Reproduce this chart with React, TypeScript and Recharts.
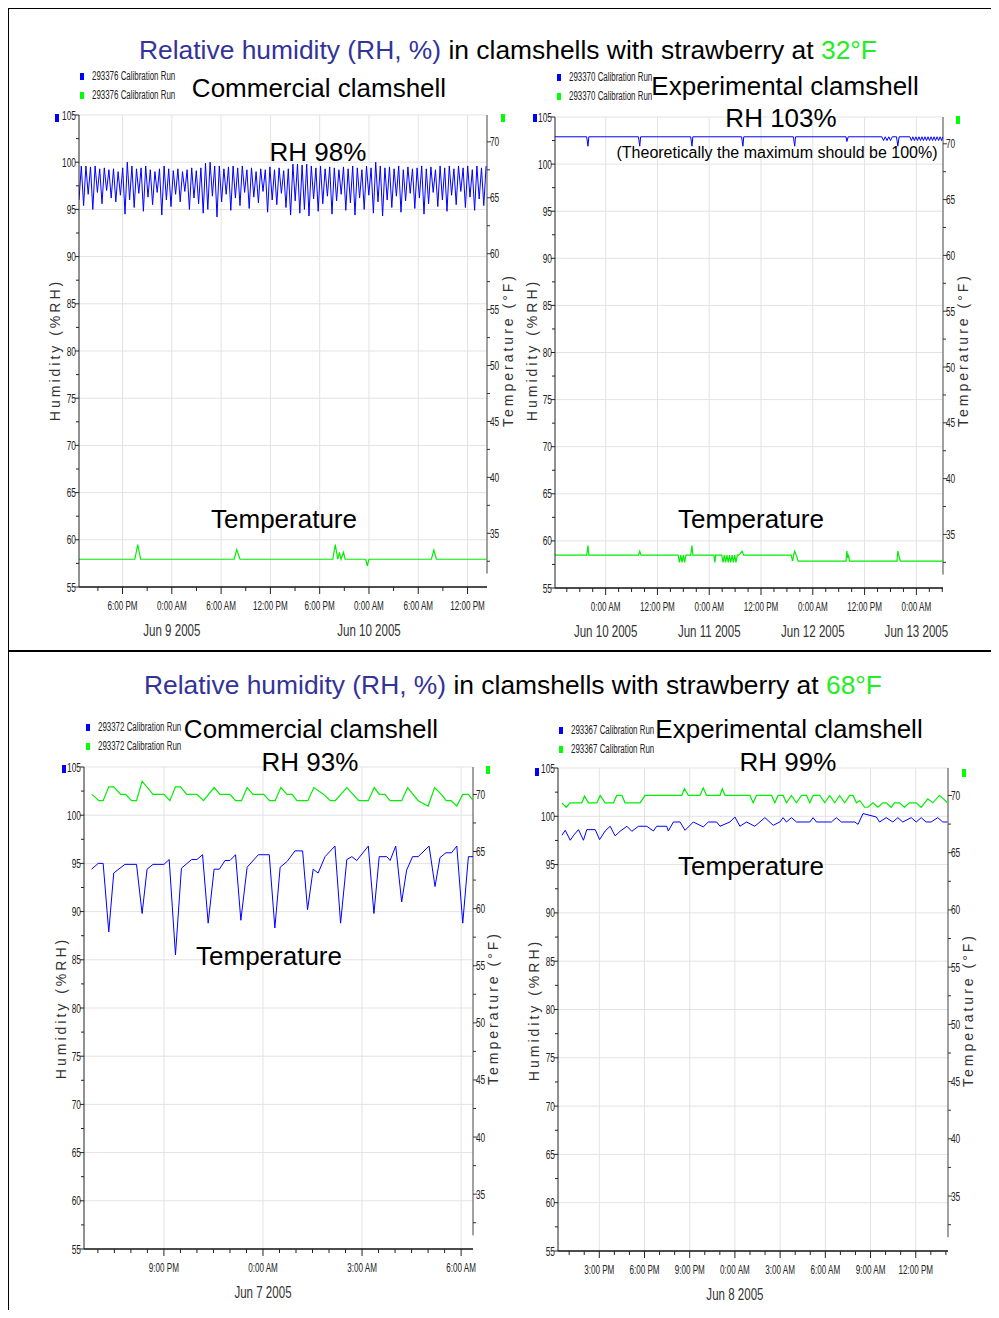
import React from "react";
import { ComposedChart, Line, XAxis, YAxis, ReferenceLine } from "recharts";

const FONT = '"Liberation Sans", Arial, sans-serif';
const BLUE = "#0000ff";
const GREEN = "#00ee00";
const TITLE_BLUE = "#333399";
const GRID = "#e3e3e3";

// ---------- Top-left: Commercial clamshell, 32°F (RH sampled every 0.28 h from -11.3 h) ----------
const tlRhStart = -11.3;
const tlRhStep = 0.28;
const tlRh = [
  96.0, 99.6, 95.4, 99.6, 96.6, 99.5, 95.0, 99.6, 96.8, 99.3,
  95.6, 99.4, 97.0, 99.2, 96.2, 99.3, 95.8, 99.0, 96.5, 99.4,
  94.5, 100.0, 96.0, 99.6, 95.2, 99.3, 96.7, 99.4, 94.8, 99.6,
  96.3, 99.2, 95.5, 99.0, 96.8, 99.3, 94.4, 99.6, 96.0, 99.3,
  95.3, 99.1, 96.6, 99.3, 95.8, 99.0, 96.9, 99.2, 95.0, 99.4,
  96.2, 99.1, 95.6, 99.4, 94.6, 99.9, 95.0, 100.0, 96.4, 99.6,
  94.2, 99.6, 95.8, 99.3, 96.6, 99.5, 94.9, 99.6, 96.2, 99.4,
  95.4, 99.6, 96.8, 99.2, 95.1, 99.4, 96.3, 99.0, 95.7, 99.3,
  96.9, 99.2, 94.7, 99.5, 96.0, 99.2, 95.5, 99.4, 96.7, 99.1,
  95.2, 99.3, 94.4, 99.8, 95.9, 99.8, 94.6, 99.7, 95.0, 99.8,
  94.3, 99.6, 96.1, 99.4, 94.8, 99.6, 95.6, 99.3, 96.4, 99.5,
  94.5, 99.4, 95.9, 99.2, 96.6, 99.5, 94.9, 99.3, 95.7, 99.6,
  94.4, 99.4, 96.2, 99.2, 95.0, 99.6, 96.5, 99.4, 94.6, 100.0,
  95.8, 99.6, 94.3, 99.4, 96.0, 99.5, 95.2, 99.3, 96.4, 99.6,
  94.7, 99.2, 95.9, 99.5, 96.7, 99.3, 95.1, 99.4, 96.2, 99.6,
  94.5, 99.3, 95.6, 99.5, 96.8, 99.2, 95.3, 99.6, 96.0, 99.4,
  94.8, 99.6, 96.5, 99.3, 95.5, 99.6, 96.9, 99.4, 95.2, 99.6,
  96.3, 99.2, 94.9, 99.6, 96.1, 99.4, 95.4, 99.6,
];
const tlTemp: [number, number][] = [
  [-11.3, 32.68], [-4.5, 32.68], [-4.15, 34.0], [-3.8, 32.68], [7.6, 32.68], [7.9, 33.55],
  [8.3, 32.68], [19.6, 32.68], [19.9, 34.0], [20.2, 32.68], [20.4, 33.3], [20.6, 32.68],
  [20.9, 33.3], [21.1, 32.68], [23.6, 32.68], [23.8, 32.1], [24.0, 32.68], [31.6, 32.68],
  [31.9, 33.5], [32.2, 32.68], [38.37, 32.68],
];

// ---------- Top-right: Experimental clamshell, 32°F ----------
const trRh: [number, number][] = [
  [-11.74, 102.9], [-4.4, 102.9], [-4.1, 101.9], [-3.9, 102.9], [7.6, 102.9], [7.9, 101.9],
  [8.1, 102.9], [19.7, 102.9], [20.0, 101.9], [20.2, 102.9], [31.5, 102.9], [31.8, 101.9],
  [32.0, 102.9], [43.5, 102.9], [43.8, 101.9], [44.0, 102.9], [55.7, 102.9], [55.9, 102.4],
  [56.2, 102.9], [64.0, 102.9], [64.4, 102.5], [64.8, 102.9], [65.2, 102.5], [65.6, 102.9],
  [66.0, 102.5], [66.4, 102.9], [67.4, 102.9], [67.7, 101.9], [68.0, 102.9], [70.5, 102.9],
  [70.85, 102.5], [71.2, 102.9], [71.55, 102.5], [71.9, 102.9], [72.25, 102.5], [72.6, 102.9],
  [72.95, 102.5], [73.3, 102.9], [73.65, 102.5], [74.0, 102.9], [74.35, 102.5], [74.7, 102.9],
  [75.05, 102.5], [75.4, 102.9], [75.75, 102.5], [76.1, 102.9], [76.45, 102.5], [76.8, 102.9],
  [77.15, 102.5], [77.5, 102.9], [77.85, 102.5], [78.1, 102.9],
];
const trTemp: [number, number][] = [
  [-11.74, 33.14], [-4.4, 33.14], [-4.1, 34.0], [-3.9, 33.14], [7.6, 33.14], [7.9, 33.5],
  [8.2, 33.14], [16.8, 33.14], [17.1, 32.5], [17.4, 33.14], [17.7, 32.5], [18.0, 33.14],
  [18.3, 32.5], [18.6, 33.14], [19.7, 33.14], [20.0, 34.0], [20.2, 33.14], [25.1, 33.14],
  [25.3, 32.5], [25.5, 33.14], [26.9, 33.14], [27.2, 32.5], [27.5, 33.14], [27.8, 32.5],
  [28.1, 33.14], [28.4, 32.5], [28.7, 33.14], [29.0, 32.5], [29.3, 33.14], [29.6, 32.5],
  [29.9, 33.14], [30.2, 32.5], [30.5, 33.14], [30.8, 33.14], [31.2, 33.3], [31.6, 33.5],
  [32.0, 33.14], [43.0, 33.14], [43.3, 32.6], [43.6, 33.2], [43.8, 33.5], [44.2, 33.1],
  [44.6, 32.6], [55.7, 32.6], [55.9, 33.5], [56.1, 32.9], [56.3, 33.1], [56.5, 32.6],
  [67.5, 32.6], [67.7, 33.5], [68.0, 33.0], [68.3, 32.6], [78.17, 32.6],
];

// ---------- Bottom-left: Commercial clamshell, 68°F ----------
const blRh: [number, number][] = [
  [-5.19, 94.4], [-4.99, 95.0], [-4.84, 95.0], [-4.67, 87.9], [-4.52, 94.0], [-4.18, 94.9],
  [-3.83, 94.9], [-3.66, 89.8], [-3.51, 94.4], [-3.33, 94.9], [-3.0, 94.9], [-2.84, 95.4],
  [-2.65, 85.5], [-2.47, 94.5], [-2.16, 95.4], [-2.0, 95.4], [-1.83, 95.9], [-1.66, 88.8],
  [-1.48, 94.4], [-1.32, 94.4], [-1.15, 95.3], [-1.0, 95.3], [-0.83, 95.9], [-0.67, 89.1],
  [-0.48, 94.6], [-0.14, 95.9], [0.19, 95.9], [0.36, 88.3], [0.52, 94.6], [0.73, 95.2],
  [0.97, 96.3], [1.2, 96.3], [1.35, 90.2], [1.52, 94.4], [1.67, 94.0], [1.88, 95.7],
  [2.18, 96.8], [2.35, 88.8], [2.54, 95.4], [2.69, 95.7], [2.84, 95.3], [3.19, 96.8],
  [3.36, 89.8], [3.52, 95.7], [3.75, 95.7], [3.85, 95.3], [4.02, 96.8], [4.2, 91.0],
  [4.35, 94.3], [4.53, 95.7], [4.7, 95.7], [5.03, 96.8], [5.21, 92.6], [5.36, 95.6],
  [5.54, 96.1], [5.71, 96.1], [5.87, 96.8], [6.05, 88.8], [6.22, 95.7], [6.36, 95.7],
];
const blTemp: [number, number][] = [
  [-5.18, 70.0], [-4.97, 69.45], [-4.84, 69.45], [-4.67, 70.66], [-4.52, 70.66], [-4.31, 70.0],
  [-4.16, 70.0], [-3.98, 69.45], [-3.83, 69.45], [-3.66, 71.16], [-3.33, 70.0], [-3.0, 70.0],
  [-2.82, 69.45], [-2.65, 70.66], [-2.5, 70.66], [-2.31, 70.0], [-2.0, 70.0], [-1.8, 69.45],
  [-1.48, 70.6], [-1.3, 70.0], [-1.0, 70.0], [-0.83, 69.45], [-0.65, 69.45], [-0.48, 70.6],
  [-0.3, 70.0], [0.02, 70.0], [0.2, 69.45], [0.37, 69.45], [0.54, 70.6], [0.73, 70.0],
  [0.88, 70.0], [1.03, 69.45], [1.36, 69.45], [1.54, 70.6], [1.84, 70.0], [2.04, 69.45],
  [2.19, 69.45], [2.54, 70.6], [2.9, 69.45], [3.19, 69.45], [3.37, 70.6], [3.52, 70.0],
  [3.69, 70.0], [3.85, 69.45], [4.2, 69.45], [4.38, 70.6], [4.7, 69.45], [5.0, 68.98],
  [5.2, 70.6], [5.4, 70.0], [5.55, 69.45], [5.7, 69.45], [5.87, 68.98], [6.05, 70.0],
  [6.22, 70.0], [6.36, 69.5],
];

// ---------- Bottom-right: Experimental clamshell, 68°F ----------
const brRh: [number, number][] = [
  [-11.48, 98.04], [-11.26, 98.55], [-10.93, 97.52], [-10.7, 98.04], [-10.38, 98.62], [-10.05, 97.52],
  [-9.83, 98.62], [-9.27, 98.62], [-8.98, 97.59], [-8.61, 98.48], [-8.28, 98.97], [-7.95, 97.97],
  [-7.62, 98.45], [-7.17, 98.97], [-6.84, 98.45], [-6.4, 98.97], [-5.85, 98.97], [-5.41, 98.48],
  [-5.19, 98.97], [-4.53, 98.97], [-4.42, 98.48], [-4.08, 99.41], [-3.64, 99.41], [-3.31, 98.55],
  [-2.76, 99.41], [-2.1, 98.9], [-1.77, 99.41], [-1.21, 99.41], [-0.99, 98.97], [-0.33, 99.41],
  [0.0, 99.93], [0.33, 98.97], [0.77, 99.41], [1.32, 98.97], [1.99, 99.86], [2.54, 99.07],
  [2.98, 99.41], [3.2, 99.86], [3.42, 99.41], [3.75, 99.86], [4.08, 99.41], [4.97, 99.41],
  [5.19, 99.86], [5.41, 99.41], [6.4, 99.41], [6.73, 99.86], [7.06, 99.41], [7.95, 99.41],
  [8.17, 99.17], [8.5, 100.28], [9.38, 99.93], [9.6, 99.41], [10.04, 99.86], [10.48, 99.41],
  [10.81, 99.86], [11.14, 99.41], [11.7, 99.86], [12.03, 99.41], [12.36, 99.86], [12.69, 99.41],
  [13.02, 99.41], [13.46, 99.86], [13.79, 99.41], [14.1, 99.41],
];
const brTemp: [number, number][] = [
  [-11.48, 69.36], [-11.2, 68.97], [-10.93, 69.36], [-10.16, 69.36], [-9.98, 69.94], [-9.72, 69.36],
  [-9.16, 69.36], [-8.94, 70.0], [-8.61, 69.36], [-8.06, 69.36], [-7.84, 70.0], [-7.5, 70.0],
  [-7.29, 69.36], [-6.29, 69.36], [-5.96, 70.0], [-3.53, 70.0], [-3.35, 70.59], [-3.09, 70.0],
  [-2.32, 70.0], [-2.1, 70.65], [-1.88, 70.0], [-0.99, 70.0], [-0.84, 70.59], [-0.66, 70.0],
  [0.99, 70.0], [1.21, 69.36], [1.43, 70.0], [2.43, 70.0], [2.65, 69.36], [2.87, 70.0],
  [3.2, 70.0], [3.42, 69.36], [3.75, 70.0], [4.08, 69.36], [4.42, 70.0], [4.75, 70.0],
  [4.97, 69.36], [5.19, 70.0], [5.63, 70.0], [5.96, 69.36], [6.29, 70.0], [6.62, 69.36],
  [6.95, 70.0], [7.28, 69.36], [7.62, 70.0], [7.84, 70.0], [8.06, 69.36], [8.28, 69.56],
  [8.61, 68.97], [8.83, 68.97], [9.16, 69.36], [9.49, 68.97], [9.82, 69.36], [10.04, 69.36],
  [10.37, 68.97], [10.59, 69.36], [10.92, 69.36], [11.25, 68.97], [11.59, 69.36], [12.03, 69.36],
  [12.36, 68.97], [12.8, 69.71], [13.13, 69.36], [13.57, 70.0], [13.79, 69.77], [14.1, 69.36],
];

// ---------- Axis tick labels ----------
const tlMajors = [-6, 0, 6, 12, 18, 24, 30, 36];
const tlMajorLabels = ["6:00 PM", "0:00 AM", "6:00 AM", "12:00 PM", "6:00 PM", "0:00 AM", "6:00 AM", "12:00 PM"];
const tlDates = ["", "Jun 9 2005", "", "", "", "Jun 10 2005", "", ""];

const trMajors = [0, 12, 24, 36, 48, 60, 72];
const trMajorLabels = ["0:00 AM", "12:00 PM", "0:00 AM", "12:00 PM", "0:00 AM", "12:00 PM", "0:00 AM"];
const trDates = ["Jun 10 2005", "", "Jun 11 2005", "", "Jun 12 2005", "", "Jun 13 2005"];

const blMajors = [-3, 0, 3, 6];
const blMajorLabels = ["9:00 PM", "0:00 AM", "3:00 AM", "6:00 AM"];
const blDates = ["", "Jun 7 2005", "", ""];

const brMajors = [-9, -6, -3, 0, 3, 6, 9, 12];
const brMajorLabels = ["3:00 PM", "6:00 PM", "9:00 PM", "0:00 AM", "3:00 AM", "6:00 AM", "9:00 AM", "12:00 PM"];
const brDates = ["", "", "", "Jun 8 2005", "", "", "", ""];

const range = (a: number, b: number, s: number) => {
  const r: number[] = [];
  for (let v = a; v <= b + 1e-9; v += s) r.push(Math.round(v * 1000) / 1000);
  return r;
};

const leftTicks = range(55, 105, 2.5);
const rightTicks = range(32.5, 70, 2.5);
const gridY = range(60, 105, 5);
const isMult5 = (v: number) => Math.abs(v / 5 - Math.round(v / 5)) < 1e-6;

type Rect = { x: number; y: number; w: number; h: number };

interface PanelProps {
  plot: Rect;
  xDomain: [number, number];
  minorStep: number;
  majors: number[];
  majorLabels: string[];
  dates: string[];
  rh: [number, number][];
  temp: [number, number][];
}

function buildRows(rh: [number, number][], temp: [number, number][]) {
  const rows: any[] = [];
  rh.forEach(([t, v]) => rows.push({ t, rh: v }));
  temp.forEach(([t, v]) => rows.push({ t, temp: v }));
  rows.sort((a, b) => a.t - b.t);
  return rows;
}

const RIGHT_DOMAIN: [number, number] = [30.2, 72.4];
const X_AXIS_H = 60;

function Panel({ plot, xDomain, minorStep, majors, majorLabels, dates, rh, temp }: PanelProps) {
  const rows = buildRows(rh, temp);
  const start = Math.ceil(xDomain[0] / minorStep) * minorStep;
  const xTicks = range(start, xDomain[1], minorStep);

  const xTick = (props: any) => {
    const { x, y, payload } = props;
    const v = payload.value;
    const idx = majors.findIndex((m) => Math.abs(m - v) < 1e-6);
    if (idx < 0) {
      return <line x1={x} x2={x} y1={y} y2={y + 4} stroke="#222" strokeWidth={1} />;
    }
    return (
      <g>
        <line x1={x} x2={x} y1={y} y2={y + 7} stroke="#222" strokeWidth={1} />
        <text
          transform={`translate(${x},${y + 23}) scale(0.6,1)`}
          textAnchor="middle"
          fontSize={13.5}
          fontFamily={FONT}
          fill="#222"
        >
          {majorLabels[idx]}
        </text>
        {dates[idx] ? (
          <text
            transform={`translate(${x},${y + 49}) scale(0.7,1)`}
            textAnchor="middle"
            fontSize={16.5}
            fontFamily={FONT}
            fill="#333"
          >
            {dates[idx]}
          </text>
        ) : null}
      </g>
    );
  };

  const leftTick = (props: any) => {
    const { x, y, payload } = props;
    const v = payload.value;
    const major = isMult5(v);
    return (
      <g>
        <line x1={x - (major ? 4 : 3)} x2={x} y1={y} y2={y} stroke="#222" />
        {major ? (
          <text
            transform={`translate(${x - 3},${y + 4.5}) scale(0.64,1)`}
            textAnchor="end"
            fontSize={13}
            fontFamily={FONT}
            fill="#222"
          >
            {v}
          </text>
        ) : null}
      </g>
    );
  };

  const rightTick = (props: any) => {
    const { x, y, payload } = props;
    const v = payload.value;
    const major = isMult5(v);
    return (
      <g>
        <line x1={x} x2={x + (major ? 4 : 3)} y1={y} y2={y} stroke="#333" />
        {major ? (
          <text
            transform={`translate(${x + 3},${y + 4.5}) scale(0.64,1)`}
            textAnchor="start"
            fontSize={13}
            fontFamily={FONT}
            fill="#222"
          >
            {v}
          </text>
        ) : null}
      </g>
    );
  };

  return (
    <div style={{ position: "absolute", left: plot.x - 50, top: plot.y - 10 }}>
      <ComposedChart
        width={plot.w + 100}
        height={plot.h + 20 + X_AXIS_H}
        data={rows}
        margin={{ top: 10, right: 20, bottom: 10, left: 20 }}
      >
        <XAxis
          xAxisId="x"
          type="number"
          dataKey="t"
          domain={xDomain}
          allowDataOverflow
          ticks={xTicks}
          interval={0}
          tickSize={0}
          tickMargin={0}
          height={X_AXIS_H}
          tickLine={false}
          axisLine={{ stroke: "#111", strokeWidth: 1.5 }}
          tick={xTick}
        />
        <YAxis
          yAxisId="left"
          type="number"
          domain={[55, 105]}
          allowDataOverflow
          ticks={leftTicks}
          interval={0}
          width={30}
          tickSize={0}
          tickMargin={0}
          tickLine={false}
          axisLine={{ stroke: "#222" }}
          tick={leftTick}
        />
        <YAxis
          yAxisId="right"
          orientation="right"
          type="number"
          domain={RIGHT_DOMAIN}
          allowDataOverflow
          ticks={rightTicks}
          interval={0}
          width={30}
          tickSize={0}
          tickMargin={0}
          tickLine={false}
          axisLine={false}
          tick={rightTick}
        />
        {gridY.map((v) => (
          <ReferenceLine key={"gy" + v} xAxisId="x" yAxisId="left" y={v} stroke={GRID} strokeWidth={1} />
        ))}
        {majors.map((v) => (
          <ReferenceLine key={"gx" + v} xAxisId="x" yAxisId="left" x={v} stroke={GRID} strokeWidth={1} />
        ))}
        <ReferenceLine
          xAxisId="x"
          yAxisId="right"
          segment={[
            { x: xDomain[1], y: 31.4 },
            { x: xDomain[1], y: RIGHT_DOMAIN[1] },
          ]}
          stroke="#444"
          strokeWidth={1}
        />
        <Line
          xAxisId="x"
          yAxisId="left"
          type="linear"
          dataKey="rh"
          stroke={BLUE}
          strokeWidth={1}
          dot={false}
          connectNulls
          isAnimationActive={false}
        />
        <Line
          xAxisId="x"
          yAxisId="right"
          type="linear"
          dataKey="temp"
          stroke={GREEN}
          strokeWidth={1.2}
          dot={false}
          connectNulls
          isAnimationActive={false}
        />
      </ComposedChart>
    </div>
  );
}

function Txt({
  x,
  y,
  size,
  children,
  color = "#000",
  anchor = "middle",
  family = FONT,
  rotate = 0,
  spacing = 0,
  sx = 1,
}: any) {
  return (
    <div
      style={{
        position: "absolute",
        left: x,
        top: y,
        transformOrigin: anchor === "middle" ? "50% 50%" : "0 50%",
        transform: `translate(${anchor === "middle" ? "-50%" : "0"}, -50%) rotate(${rotate}deg) scaleX(${sx})`,
        fontSize: size,
        fontFamily: family,
        color,
        whiteSpace: "nowrap",
        lineHeight: 1,
        letterSpacing: spacing,
      }}
    >
      {children}
    </div>
  );
}

function Sq({ x, y, color, w = 4, h = 7 }: any) {
  return <div style={{ position: "absolute", left: x, top: y, width: w, height: h, background: color }} />;
}

function Legend({ x, y, id, gap = 19 }: any) {
  return (
    <>
      <Sq x={x} y={y - 3} color={BLUE} />
      <Sq x={x} y={y + gap - 3} color="#00ff00" />
      <Txt x={x + 12} y={y} size={12} anchor="start" sx={0.66} color="#222">
        {id} Calibration Run
      </Txt>
      <Txt x={x + 12} y={y + gap} size={12} anchor="start" sx={0.66} color="#222">
        {id} Calibration Run
      </Txt>
    </>
  );
}

function AxisTitles({ lx, rx, y }: any) {
  return (
    <>
      <Txt x={lx} y={y} size={14} rotate={-90} spacing={3} color="#333">
        Humidity (%RH)
      </Txt>
      <Txt x={rx} y={y} size={14} rotate={-90} spacing={3} color="#333">
        Temperature (°F)
      </Txt>
    </>
  );
}

export default function App() {
  return (
    <div
      style={{
        position: "relative",
        width: 999,
        height: 1318,
        margin: -8,
        overflow: "hidden",
        background: "#fff",
        fontFamily: FONT,
      }}
    >
      {/* frame */}
      <div style={{ position: "absolute", left: 7, top: 7, width: 1000, height: 2, background: "#000" }} />
      <div style={{ position: "absolute", left: 7, top: 7, width: 2, height: 1320, background: "#000" }} />
      <div style={{ position: "absolute", left: 7, top: 650, width: 1000, height: 2, background: "#000" }} />

      <Panel
        plot={{ x: 79, y: 115, w: 408, h: 472 }}
        xDomain={[-11.3, 38.37]}
        minorStep={3}
        majors={tlMajors}
        majorLabels={tlMajorLabels}
        dates={tlDates}
        rh={tlRh.map((v, i) => [tlRhStart + i * tlRhStep, v] as [number, number])}
        temp={tlTemp}
      />
      <Panel
        plot={{ x: 555, y: 117, w: 388, h: 471 }}
        xDomain={[-11.74, 78.17]}
        minorStep={3}
        majors={trMajors}
        majorLabels={trMajorLabels}
        dates={trDates}
        rh={trRh}
        temp={trTemp}
      />
      <Panel
        plot={{ x: 84, y: 767, w: 389, h: 482 }}
        xDomain={[-5.42, 6.36]}
        minorStep={0.5}
        majors={blMajors}
        majorLabels={blMajorLabels}
        dates={blDates}
        rh={blRh}
        temp={blTemp}
      />
      <Panel
        plot={{ x: 558, y: 768, w: 390, h: 483 }}
        xDomain={[-11.74, 14.14]}
        minorStep={1}
        majors={brMajors}
        majorLabels={brMajorLabels}
        dates={brDates}
        rh={brRh}
        temp={brTemp}
      />

      {/* titles */}
      <Txt x={508} y={50} size={26.4}>
        <span style={{ color: TITLE_BLUE }}>Relative humidity (RH, %)</span>
        <span> in clamshells with strawberry at </span>
        <span style={{ color: "#22ee22" }}>32°F</span>
      </Txt>
      <Txt x={513} y={685} size={26.4}>
        <span style={{ color: TITLE_BLUE }}>Relative humidity (RH, %)</span>
        <span> in clamshells with strawberry at </span>
        <span style={{ color: "#22ee22" }}>68°F</span>
      </Txt>

      {/* top-left annotations */}
      <Legend x={80} y={76} id="293376" />
      <Txt x={319} y={88} size={26}>Commercial clamshell</Txt>
      <Txt x={318} y={152} size={26}>RH 98%</Txt>
      <Txt x={284} y={519} size={26}>Temperature</Txt>
      <Sq x={55} y={114} color={BLUE} w={4} h={8} />
      <Sq x={501} y={114} color="#00ff00" w={4} h={8} />
      <AxisTitles lx={55} rx={508} y={350} />

      {/* top-right annotations */}
      <Legend x={557} y={77} id="293370" />
      <Txt x={785} y={86} size={26}>Experimental clamshell</Txt>
      <Txt x={781} y={118} size={26}>RH 103%</Txt>
      <Txt x={777} y={153} size={16}>(Theoretically the maximum should be 100%)</Txt>
      <Txt x={751} y={519} size={26}>Temperature</Txt>
      <Sq x={533} y={114} color={BLUE} w={4} h={8} />
      <Sq x={956} y={116} color="#00ff00" w={4} h={8} />
      <AxisTitles lx={532} rx={963} y={350} />

      {/* bottom-left annotations */}
      <Legend x={86} y={727} id="293372" />
      <Txt x={311} y={729} size={26}>Commercial clamshell</Txt>
      <Txt x={310} y={762} size={26}>RH 93%</Txt>
      <Txt x={269} y={956} size={26}>Temperature</Txt>
      <Sq x={62} y={765} color={BLUE} w={4} h={8} />
      <Sq x={486} y={766} color="#00ff00" w={4} h={8} />
      <AxisTitles lx={61} rx={493} y={1008} />

      {/* bottom-right annotations */}
      <Legend x={559} y={730} id="293367" />
      <Txt x={789} y={729} size={26}>Experimental clamshell</Txt>
      <Txt x={788} y={762} size={26}>RH 99%</Txt>
      <Txt x={751} y={866} size={26}>Temperature</Txt>
      <Sq x={535} y={768} color={BLUE} w={4} h={8} />
      <Sq x={962} y={769} color="#00ff00" w={4} h={8} />
      <AxisTitles lx={534} rx={968} y={1010} />
    </div>
  );
}
